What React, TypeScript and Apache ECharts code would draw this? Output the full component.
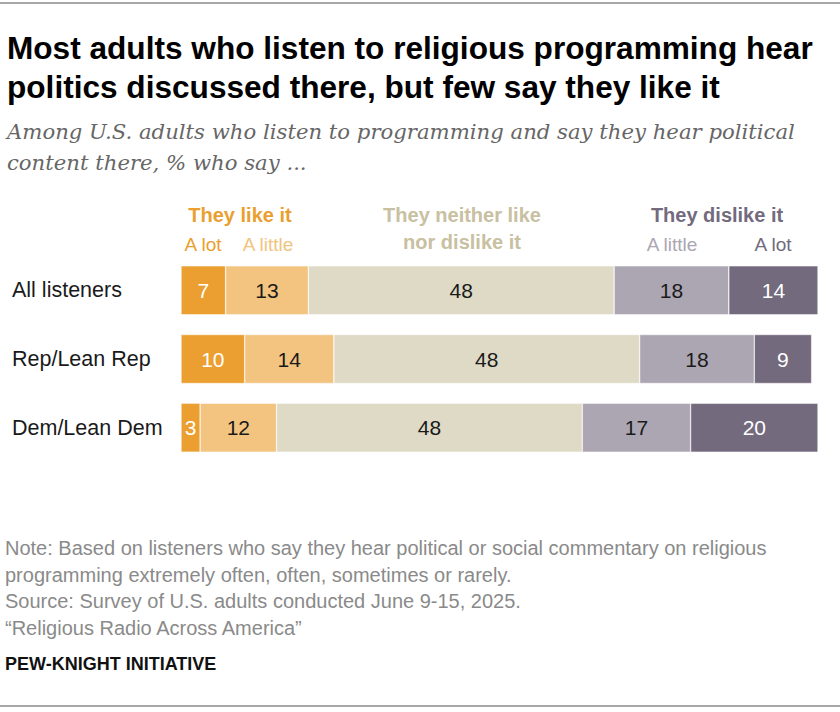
import React, { useEffect, useRef } from "react";
import * as echarts from "echarts";

const categories = ["All listeners", "Rep/Lean Rep", "Dem/Lean Dem"];
const likeLot = [7, 10, 3];
const likeLittle = [13, 14, 12];
const neither = [48, 48, 48];
const dislikeLittle = [18, 18, 17];
const dislikeLot = [14, 9, 20];

const seriesNames = ["Like a lot", "Like a little", "Neither", "Dislike a little", "Dislike a lot"];
const seriesData = [likeLot, likeLittle, neither, dislikeLittle, dislikeLot];
const seriesColors = ["#EA9F30", "#F2C47F", "#DEDAC6", "#ACA6B3", "#736A7E"];
const labelColors = ["#ffffff", "#1a1a1a", "#1a1a1a", "#1a1a1a", "#ffffff"];

const titleLines = [
  "Most adults who listen to religious programming hear",
  "politics discussed there, but few say they like it",
];
const subtitleLines = [
  "Among U.S. adults who listen to programming and say they hear political",
  "content there, % who say ...",
];
const footerLines = [
  "Note: Based on listeners who say they hear political or social commentary on religious",
  "programming extremely often, often, sometimes or rarely.",
  "Source: Survey of U.S. adults conducted June 9-15, 2025.",
  "\u201cReligious Radio Across America\u201d",
];
const sourceLabel = "PEW-KNIGHT INITIATIVE";

export default function App() {
  const ref = useRef<HTMLDivElement>(null);
  useEffect(() => {
    if (!ref.current) return;
    const chart = echarts.init(ref.current, null, { renderer: "svg" });
    const sans = "'Liberation Sans', Arial, sans-serif";
    const serif = "'DejaVu Serif', Georgia, serif";
    const txt = (text: string, x: number, y: number, fill: string, size: number, weight: any = "normal", align: any = "left", family: string = sans, style: string = "normal") => ({
      type: "text",
      x,
      y,
      style: { text, fill, font: `${style} ${weight} ${size}px ${family}`, textAlign: align, textVerticalAlign: "middle" },
    });
    const graphics: any[] = [
      { type: "line", shape: { x1: 0, y1: 3, x2: 840, y2: 3 }, style: { stroke: "#8a8a8a", lineWidth: 1.5 } },
      { type: "line", shape: { x1: 0, y1: 706, x2: 840, y2: 706 }, style: { stroke: "#8a8a8a", lineWidth: 1.5 } },
      txt(titleLines[0], 7, 48, "#000000", 31.6, "bold"),
      txt(titleLines[1], 7, 87, "#000000", 31.6, "bold"),
      txt(subtitleLines[0], 7, 131, "#666666", 21.2, "normal", "left", serif, "italic"),
      txt(subtitleLines[1], 7, 162, "#666666", 21.2, "normal", "left", serif, "italic"),
      txt("They like it", 240, 215, "#EA9F30", 20, "bold", "center"),
      txt("A lot", 203, 244, "#EA9F30", 19, "normal", "center"),
      txt("A little", 268, 244, "#F2C47F", 19, "normal", "center"),
      txt("They neither like", 462, 215, "#C8C0A0", 20, "bold", "center"),
      txt("nor dislike it", 462, 242, "#C8C0A0", 20, "bold", "center"),
      txt("They dislike it", 717, 215, "#736A7E", 20, "bold", "center"),
      txt("A little", 672, 244, "#ACA6B3", 19, "normal", "center"),
      txt("A lot", 773, 244, "#736A7E", 19, "normal", "center"),
      ...footerLines.map((l, i) => txt(l, 5, 548 + i * 26.5, "#8a8a8a", 20, "normal")),
      txt(sourceLabel, 5, 664, "#111111", 18, "bold"),
    ];
    chart.setOption({
      animation: false,
      grid: { left: 181, width: 637, top: 256, height: 206, containLabel: false },
      xAxis: { type: "value", min: 0, max: 100, show: false },
      yAxis: {
        type: "category",
        data: categories,
        inverse: true,
        axisLine: { show: false },
        axisTick: { show: false },
        axisLabel: { align: "left", margin: 169, fontSize: 21.5, color: "#1a1a1a", fontFamily: sans },
      },
      series: seriesNames.map((name, i) => ({
        name,
        type: "bar",
        stack: "total",
        barWidth: 49,
        data: seriesData[i],
        itemStyle: { color: seriesColors[i], borderColor: "#ffffff", borderWidth: 0.5 },
        label: { show: true, position: "inside", fontSize: 21, color: labelColors[i], fontFamily: sans },
      })),
      graphic: graphics,
    });
    return () => chart.dispose();
  }, []);
  return <div ref={ref} style={{ position: "absolute", left: 0, top: 0, width: 840, height: 712 }} />;
}
